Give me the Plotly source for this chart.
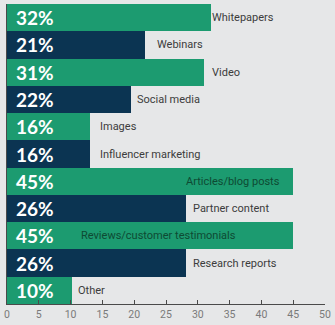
import plotly.graph_objects as go

categories = ["Whitepapers", "Webinars", "Video", "Social media", "Images",
              "Influencer marketing", "Articles/blog posts", "Partner content",
              "Reviews/customer testimonials", "Research reports", "Other"]
bar_lengths = [32, 21.7, 31, 19.5, 13, 13, 45, 28.2, 45, 28.2, 10.2]
pct_labels = ["32%", "21%", "31%", "22%", "16%", "16%", "45%", "26%", "45%", "26%", "10%"]
series_group = ["g", "n", "g", "n", "g", "n", "g", "n", "g", "n", "g"]
tick_vals = [0, 5, 10, 15, 20, 25, 30, 35, 40, 45, 50]

# label placement (style): data x for each category label, and whether inside bar
label_x = [32.3, 23.6, 32.3, 20.5, 14.7, 14.7, 28.2, 29.3, 11.6, 29.3, 11.1]
label_inside = [False, False, False, False, False, False, True, False, True, False, False]

GREEN = "#1c9b70"
NAVY = "#0b3452"
BG = "#e6e7e8"

colors = [GREEN if s == "g" else NAVY for s in series_group]

fig = go.Figure()
fig.add_trace(go.Bar(
    x=bar_lengths, y=categories, orientation="h",
    marker=dict(color=colors, line=dict(width=0)),
    hoverinfo="skip",
))

for cat, pct in zip(categories, pct_labels):
    fig.add_annotation(x=0, y=cat, text=pct, showarrow=False, xanchor="left",
                       xshift=7, yshift=0,
                       font=dict(family="Lato", size=19, color="white", weight=700))

for cat, lx, inside in zip(categories, label_x, label_inside):
    fig.add_annotation(x=lx, y=cat, text=cat, showarrow=False, xanchor="left",
                       xshift=-2,
                       font=dict(family="Roboto", size=11,
                                 color="#0e4a33" if inside else "#3c3c3c"))

fig.update_layout(
    width=335, height=325,
    margin=dict(l=4.5, r=9, t=4, b=19),
    paper_bgcolor=BG, plot_bgcolor=BG,
    bargap=0, showlegend=False,
    xaxis=dict(range=[0, 50], tickvals=tick_vals, showgrid=False, zeroline=False,
               showline=True, linecolor="#4a4a4a", linewidth=1.2,
               ticks="inside", ticklen=4, tickcolor="#4a4a4a",
               tickfont=dict(family="Roboto", size=10.5, color="#7a7a7a"), fixedrange=True),
    yaxis=dict(autorange="reversed", showticklabels=False, showgrid=False,
               zeroline=False, showline=True, linecolor="#4a4a4a", linewidth=1,
               ticks="", fixedrange=True),
)

fig.write_html("out.html", config={"displayModeBar": False})
